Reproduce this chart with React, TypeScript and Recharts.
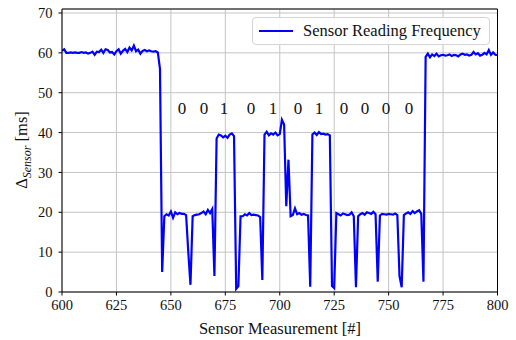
import React from "react";
import {
  LineChart,
  Line,
  XAxis,
  YAxis,
  CartesianGrid,
  ReferenceLine,
  ReferenceDot,
} from "recharts";

// first measurement index, readings follow one per measurement
const firstMeasurement = 600;

const readings = [
  60.5, 60.9, 60.0, 60.0, 60.1, 60.0, 60.1, 60.0, 60.0, 60.2,
  60.0, 60.1, 59.8, 60.0, 60.3, 59.5, 60.3, 60.2, 60.8, 60.0,
  60.9, 60.7, 60.1, 60.2, 59.6, 60.4, 60.9, 59.8, 60.5, 61.0,
  60.2, 61.3, 60.6, 61.8, 60.4, 60.8, 59.8, 60.5, 60.7, 60.4,
  60.6, 60.4, 60.3, 60.4, 60.1, 56.0, 5.0, 19.0, 19.5, 19.2,
  20.2, 18.6, 20.0, 19.5, 19.8, 19.6, 19.6, 19.3, 10.0, 1.8,
  19.0, 19.3, 19.4, 19.5, 19.8, 20.2, 19.5, 20.6, 19.8, 20.8,
  4.0, 38.5, 39.5, 39.3, 38.8, 39.2, 38.7, 39.5, 39.8, 39.1,
  0.8, 1.5, 19.0, 19.0, 19.5, 19.2, 19.8, 19.3, 19.4, 19.3,
  19.2, 18.8, 3.0, 39.5, 40.2, 39.3, 39.8, 39.5, 40.0, 39.3,
  39.6, 43.2, 42.0, 21.5, 33.2, 19.0, 19.3, 21.0, 19.5, 19.8,
  19.4, 19.6, 19.3, 19.2, 1.3, 39.5, 40.0, 39.4, 40.1, 39.6,
  39.7, 39.5, 39.6, 39.3, 1.5, 1.0, 19.8, 19.5, 19.2, 19.7,
  19.5, 19.3, 19.4, 20.0, 19.0, 1.2, 19.0, 19.5, 19.8, 19.4,
  20.0, 19.8, 19.6, 20.1, 19.5, 2.6, 19.2, 19.6, 19.5, 19.4,
  19.6, 19.5, 19.4, 19.7, 19.3, 4.0, 1.2, 19.3, 19.7, 20.0,
  19.6, 20.3, 19.8, 20.2, 20.5, 19.6, 2.6, 59.0, 59.8, 58.9,
  59.6, 59.2, 59.8, 59.1, 59.4, 59.5, 59.3, 59.4, 59.6, 59.2,
  59.5, 59.4, 59.1, 59.6, 59.8, 59.5, 59.6, 59.3, 59.5, 60.2,
  59.6, 59.9, 59.3, 59.5, 60.0, 59.6, 60.7, 59.5, 60.1, 59.5,
  59.4,
];

const xTicks = [600, 625, 650, 675, 700, 725, 750, 775, 800];
const yTicks = [0, 10, 20, 30, 40, 50, 60, 70];

// decoded bit labels above the signal
const bits = ["0", "0", "1", "0", "1", "0", "1", "0", "0", "0", "0"];
const bitPositions = [655.1, 665.2, 674.4, 686.8, 696.9, 708.4, 718.0, 729.5, 739.2, 748.8, 759.4];
const bitLevel = 46.2;

const data = readings.map((v, i) => ({ m: firstMeasurement + i, value: v }));

const FONT = "'Liberation Serif', 'DejaVu Serif', serif";
const BLUE = "#0000ff";

const LegendBox = () => (
  <div
    style={{
      position: "absolute",
      top: 17,
      left: 252,
      width: 238,
      height: 28,
      display: "flex",
      alignItems: "center",
      border: "1px solid #d4d4d4",
      borderRadius: 4,
      background: "rgba(255,255,255,0.85)",
      boxSizing: "border-box",
      padding: "0 6px",
      fontFamily: FONT,
      fontSize: 16.5,
      color: "#111",
    }}
  >
    <svg width={34} height={10} style={{ marginRight: 10 }}>
      <line x1={0} y1={5} x2={34} y2={5} stroke={BLUE} strokeWidth={2.2} />
    </svg>
    <span>Sensor Reading Frequency</span>
  </div>
);

export default function App() {
  return (
    <div style={{ position: "absolute", left: 0, top: 0, width: 516, height: 340, background: "#fff" }}>
      <LineChart
        width={516}
        height={340}
        data={data}
        margin={{ top: 9, right: 18.5, bottom: 18, left: 0 }}
      >
        <CartesianGrid stroke="#c4c4c4" strokeWidth={1} />
        <XAxis
          dataKey="m"
          type="number"
          domain={[600, 800]}
          ticks={xTicks}
          height={30}
          tickSize={3.5}
          tickMargin={4}
          stroke="#000"
          tick={{ fill: "#111", fontSize: 14.5, fontFamily: FONT }}
          allowDataOverflow
        />
        <YAxis
          type="number"
          domain={[0, 71]}
          ticks={yTicks}
          width={62}
          tickSize={3.5}
          tickMargin={6}
          stroke="#000"
          tick={{ fill: "#111", fontSize: 14.5, fontFamily: FONT }}
          allowDataOverflow
        />
        <ReferenceLine y={71} stroke="#000" strokeWidth={1} />
        <ReferenceLine x={800} stroke="#000" strokeWidth={1} />
        <Line
          type="linear"
          dataKey="value"
          stroke={BLUE}
          strokeWidth={2.2}
          dot={false}
          isAnimationActive={false}
          name="Sensor Reading Frequency"
        />
        {bits.map((b, i) => (
          <ReferenceDot
            key={i}
            x={bitPositions[i]}
            y={bitLevel}
            r={0}
            fill="none"
            stroke="none"
            label={{ value: b, position: "center", fill: "#111", fontSize: 17, fontFamily: FONT }}
          />
        ))}
        <text
          transform="translate(27,150) rotate(-90)"
          textAnchor="middle"
          fontFamily={FONT}
          fontSize={16.5}
          fill="#111"
        >
          Δ
          <tspan fontSize={12} fontStyle="italic" dy={4}>
            Sensor
          </tspan>
          <tspan dy={-4}> [ms]</tspan>
        </text>
        <text x={280} y={334} textAnchor="middle" fontFamily={FONT} fontSize={16.5} fill="#111">
          Sensor Measurement [#]
        </text>
      </LineChart>
      <LegendBox />
    </div>
  );
}
